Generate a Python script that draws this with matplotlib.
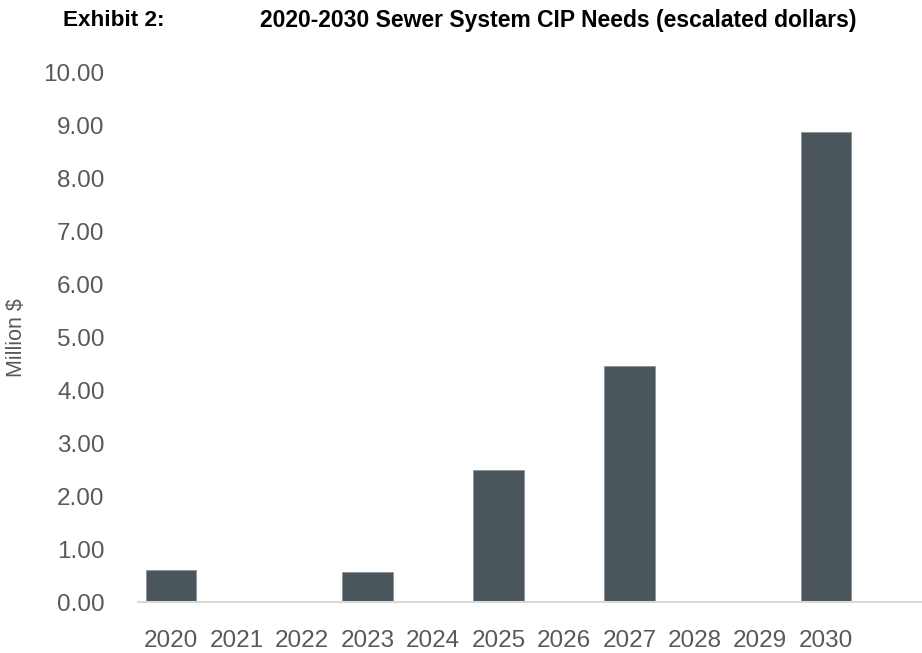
import numpy as np
import matplotlib
matplotlib.use('Agg')
import matplotlib.pyplot as plt

# CIP needs by year, million $ (escalated)
years = ['2020', '2021', '2022', '2023', '2024', '2025',
         '2026', '2027', '2028', '2029', '2030']
needs = [0.61, 0.0, 0.0, 0.57, 0.0, 2.49, 0.0, 4.46, 0.0, 0.0, 8.88]
y_ticks = [0, 1, 2, 3, 4, 5, 6, 7, 8, 9, 10]

BAR_COLOUR = '#4b555c'
TEXT_GREY = '#595959'

plt.rcParams['font.family'] = ['Liberation Sans', 'DejaVu Sans']

fig = plt.figure(figsize=(9.22, 6.53), dpi=100)
ax = fig.add_axes([0.1497, 0.0781, 0.8503, 0.8103])

x = np.arange(len(years))
ax.bar(x, needs, width=0.77, color=BAR_COLOUR,
       edgecolor='#8a9399', linewidth=0.6, zorder=2)

ax.set_xlim(-0.504, 11.47)
ax.set_ylim(0, 10)
ax.set_xticks(x)
ax.set_xticklabels(years)
ax.set_yticks(y_ticks)
ax.set_yticklabels([f'{v:.2f}' for v in y_ticks])
ax.tick_params(axis='both', length=0, labelsize=17.5, colors=TEXT_GREY)
ax.tick_params(axis='y', pad=24)
ax.tick_params(axis='x', pad=20)

for side in ['top', 'right', 'left']:
    ax.spines[side].set_visible(False)
ax.spines['bottom'].set_color('#d9d9d9')
ax.spines['bottom'].set_linewidth(1.5)

ax.set_ylabel('Million $', fontsize=15.5, color=TEXT_GREY)
ax.yaxis.set_label_coords(-0.142, 0.5)

fig.text(0.068, 0.969, 'Exhibit 2:', fontsize=16.2, fontweight='bold',
         va='center', ha='left')
fig.text(0.282, 0.969, '2020-2030 Sewer System CIP Needs (escalated dollars)',
         fontsize=16.5, fontweight='bold', va='center', ha='left')

plt.savefig('out.png', dpi=100)
plt.close()
